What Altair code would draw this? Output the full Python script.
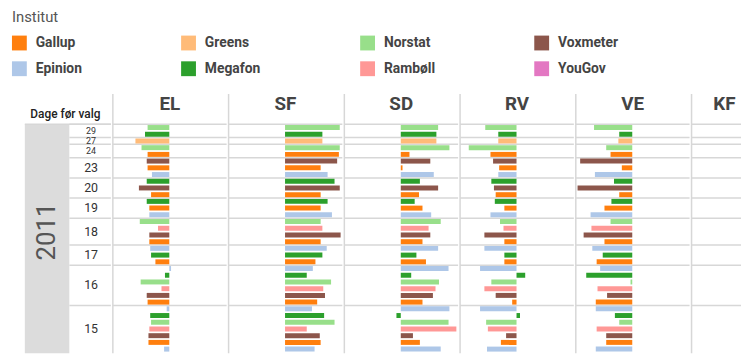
import altair as alt
import pandas as pd

FONT = "Roboto, sans-serif"
GRID = "#d7d7d7"

institut_order = ["Gallup", "Greens", "Norstat", "Voxmeter", "Epinion", "Megafon", "Rambøll", "YouGov"]
institut_colors = ["#ff7f0e", "#ffbb78", "#98df8a", "#8c564b", "#aec7e8", "#2ca02c", "#ff9896", "#e377c2"]
parties = ["EL", "SF", "SD", "RV", "VE", "KF"]
year_label = "2011"
axis_title = "Dage før valg"

institutes = ["Norstat", "Megafon", "Greens", "Norstat", "Gallup", "Voxmeter", "Gallup", "Epinion",
              "Megafon", "Voxmeter", "Gallup", "Megafon", "Gallup", "Epinion", "Norstat", "Rambøll",
              "Voxmeter", "Gallup", "Epinion", "Megafon", "Gallup", "Epinion", "Megafon", "Norstat",
              "Rambøll", "Voxmeter", "Gallup", "Epinion", "Megafon", "Norstat", "Rambøll", "Voxmeter",
              "Gallup", "Epinion"]
days = [29, 29, 27, 24, 24, 23, 23, 23, 20, 20, 20, 19, 19, 19, 18, 18, 18, 18, 17, 17, 17,
        16, 16, 16, 16, 16, 16, 15, 15, 15, 15, 15, 15, 15]

EL = [-2.5, -2.8, -3.9, -3.2, -2.5, -2.6, -2.5, -2.0, -2.6, -3.5,
      -2.1, -2.6, -2.3, -2.3, -3.4, -1.3, -2.3, -2.3, -2.2, -2.1,
      -1.6, 0.2, -0.5, -3.3, -0.9, -2.6, -2.5, -0.3, -2.2, -2.1,
      -2.3, -2.4, -2.4, -0.6]
SF = [6.3, 4.3, 4.3, 6.3, 6.2, 6.0, 4.1, 4.9, 5.7, 6.3,
      4.1, 4.9, 4.1, 5.4, 4.1, 4.3, 6.4, 4.1, 4.8, 4.3,
      3.5, 3.2, 2.5, 5.3, 4.4, 4.6, 3.7, 3.1, 4.5, 5.7,
      2.5, 4.0, 4.1, 3.4]
SD = [4.3, 4.1, 4.1, 5.6, 1.0, 3.4, 0.2, 3.8, 2.2, 4.3,
      2.1, 1.6, 2.5, 3.5, 4.6, 3.2, 3.4, 2.5, 4.3, 1.8,
      2.9, 5.5, 1.2, 4.4, 4.0, 3.7, 2.5, 5.6, -0.5, 5.5,
      6.4, 1.4, 2.2, 4.6]
RV = [-3.6, -2.1, -2.1, -5.5, -3.0, -2.7, -2.0, -2.1, -2.9, -2.6,
      -2.4, -2.5, -1.4, -3.0, -1.9, -1.5, -3.7, -1.4, -3.7, -1.4,
      -1.4, -4.2, 1.0, -2.9, -3.7, -2.4, -0.5, -4.2, 0.4, -3.5,
      -3.3, -1.2, -1.8, -3.4]
VE = [-4.4, -1.5, -1.6, -3.0, -2.5, -6.0, -1.2, -4.3, -2.1, -6.3,
      -1.5, -2.4, -3.2, -4.8, -2.5, -4.7, -5.6, -3.2, -4.6, -3.4,
      -4.1, -3.7, -5.3, -0.2, -4.0, -2.9, -4.2, -4.2, -2.0, -1.5,
      -4.1, -3.0, -3.0, -4.2]
KF = []

party_values = {"EL": EL, "SF": SF, "SD": SD, "RV": RV, "VE": VE, "KF": KF}

rows = list(range(1, len(institutes) + 1))
rows_df = pd.DataFrame({"row": rows, "day": days})
records = []
for p in parties:
    for r, inst, v in zip(rows, institutes, party_values[p]):
        records.append({"party": p, "row": r, "institut": inst, "value": v})
bars_df = pd.DataFrame(records, columns=["party", "row", "institut", "value"])

H = 262
LW = 104
W = 115
KW = 50
ydom = [-4, 34.6]
yscale = alt.Scale(domain=ydom, reverse=True)
xscale = alt.Scale(domain=[-6.5, 6.6])
one = pd.DataFrame({"k": [0]})

legend = alt.Legend(orient="none", legendX=4, legendY=-85, columns=4,
                    direction="horizontal", title="Institut")
color = alt.Color("institut:N", scale=alt.Scale(domain=institut_order, range=institut_colors),
                  legend=legend)


def yq(field):
    return alt.Y(field, scale=yscale, axis=None)


def hlines(x0, x1):
    return (alt.Chart(rows_df)
            .transform_aggregate(first="min(row)", groupby=["day"])
            .transform_calculate(yline="datum.first - 0.5")
            .mark_rule(color=GRID, strokeWidth=1.5)
            .encode(y=yq("yline:Q"), x=alt.value(x0), x2=alt.value(x1)))


def party_panel(p, w):
    vline = alt.Chart(one).mark_rule(color=GRID, strokeWidth=1.5).encode(
        x=alt.value(0), y=alt.value(0), y2=alt.value(H))
    head = (alt.Chart(pd.DataFrame({"party": [p]}))
            .transform_calculate(y="-1.0")
            .mark_text(baseline="bottom", fontSize=19, fontWeight="bold", color="#444", font=FONT,
                       align="center" if w == W else "left")
            .encode(text="party:N", x=alt.value(w / 2 if w == W else 22), y=yq("y:Q")))
    layers = [vline, hlines(0, w), head]
    d = bars_df[bars_df.party == p]
    if len(d):
        bars = (alt.Chart(d)
                .transform_calculate(y0="datum.row - 0.37", y1="datum.row + 0.37", zero="0")
                .mark_rect()
                .encode(x=alt.X("value:Q", scale=xscale, axis=None), x2="zero:Q",
                        y=yq("y0:Q"), y2="y1:Q", color=color))
        layers.insert(2, bars)
    return alt.layer(*layers).properties(width=w, height=H)


band = (alt.Chart(one)
        .transform_calculate(y0="0.5", y1=str(ydom[1]))
        .mark_rect(color="#dcdcdc")
        .encode(x=alt.value(17), x2=alt.value(62), y=yq("y0:Q"), y2="y1:Q"))
year = (alt.Chart(pd.DataFrame({"t": [year_label]}))
        .transform_calculate(y="16.5")
        .mark_text(angle=270, fontSize=26, color="#555", font=FONT)
        .encode(text="t:N", x=alt.value(40), y=yq("y:Q")))
toprule = (alt.Chart(one).transform_calculate(yline="0.5")
           .mark_rule(color=GRID, strokeWidth=1.5)
           .encode(y=yq("yline:Q"), x=alt.value(17), x2=alt.value(LW)))
daylabels = (alt.Chart(rows_df)
             .transform_aggregate(mid="mean(row)", n="count()", groupby=["day"])
             .mark_text(color="#333", font=FONT)
             .encode(text=alt.Text("day:Q", format="d"), x=alt.value(84), y=yq("mid:Q"),
                     size=alt.condition("datum.n < 3", alt.value(9), alt.value(12.5))))
atitle = (alt.Chart(pd.DataFrame({"t": [axis_title]}))
          .transform_calculate(y="0.0")
          .mark_text(baseline="bottom", fontSize=12, color="#222", font=FONT, fontWeight=500)
          .encode(text="t:N", x=alt.value(58), y=yq("y:Q")))
label_panel = alt.layer(band, year, hlines(62, LW), toprule, daylabels, atitle).properties(width=LW, height=H)

panels = [label_panel] + [party_panel(p, W if p != "KF" else KW) for p in parties]

chart = (alt.hconcat(*panels, spacing=0)
         .properties(padding={"left": 0, "top": 0, "right": 0, "bottom": 0})
         .configure_view(stroke=None)
         .configure_legend(labelFont=FONT, titleFont=FONT, labelFontSize=14, labelFontWeight="bold",
                           labelColor="#444", titleFontSize=15, titleFontWeight="normal",
                           titleColor="#555", symbolSize=225, symbolType="square",
                           symbolStrokeWidth=0, symbolOpacity=1, columnPadding=100, rowPadding=11,
                           titlePadding=11, labelOffset=9))

chart.save("out.html", embed_options={"renderer": "svg", "actions": False})
